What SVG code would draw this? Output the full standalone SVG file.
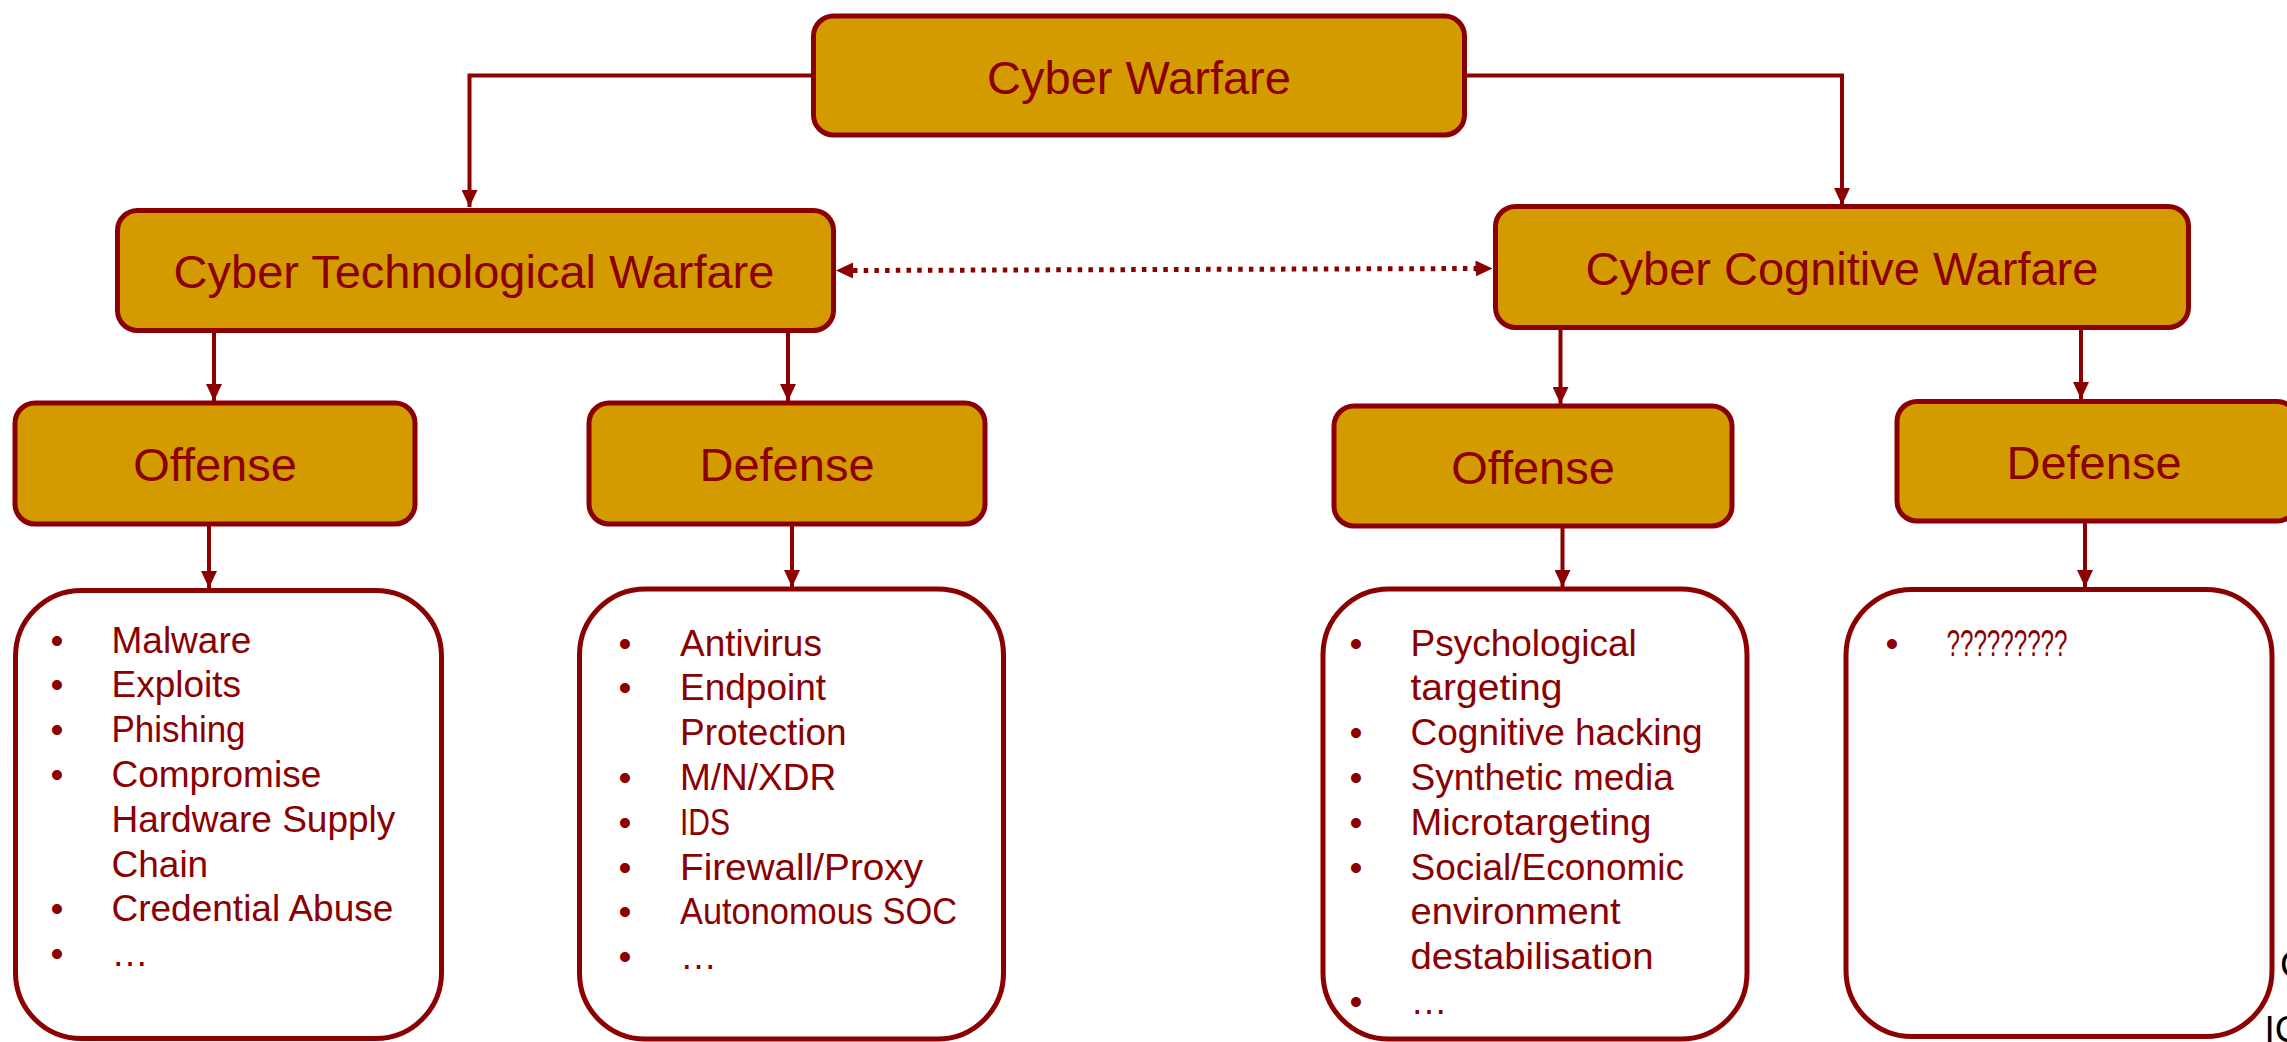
<svg xmlns="http://www.w3.org/2000/svg" width="2287" height="1042" viewBox="0 0 2287 1042">
<defs>
<style>
.node{fill:#D49B00;stroke:#8B0000;stroke-width:5}
.list{fill:#FFFFFF;stroke:#8B0000;stroke-width:5}
.lbl{font-family:"Liberation Sans",Arial,sans-serif;font-size:47px;fill:#8B0000;text-anchor:middle}
.item{font-family:"Liberation Sans",Arial,sans-serif;font-size:37px;fill:#8B0000}
.bul{font-family:"Liberation Sans",Arial,sans-serif;font-size:37px;fill:#8B0000;text-anchor:middle}
.conn{fill:none;stroke:#8B0000;stroke-width:4}
.dash{fill:none;stroke:#8B0000;stroke-width:5;stroke-dasharray:4.5 6.2}
.cut{font-family:"Liberation Sans",Arial,sans-serif;font-size:37px;fill:#000000}
</style>
<marker id="arr" viewBox="0 0 17 16" refX="17" refY="8" markerWidth="17" markerHeight="16" markerUnits="userSpaceOnUse" orient="auto-start-reverse">
<path d="M0,0 L17,8 L0,16 z" fill="#8B0000"/>
</marker>
</defs>
<rect width="2287" height="1042" fill="#FFFFFF"/>

<g id="connectors">
<path class="conn" d="M813,75.5 H469.5 V207" marker-end="url(#arr)"/>
<path class="conn" d="M1465,75.5 H1842 V205" marker-end="url(#arr)"/>
<path class="conn" d="M214,331 V401" marker-end="url(#arr)"/>
<path class="conn" d="M788,331 V401" marker-end="url(#arr)"/>
<path class="conn" d="M1560.5,328 V404" marker-end="url(#arr)"/>
<path class="conn" d="M2081,328 V399" marker-end="url(#arr)"/>
<path class="conn" d="M209,524 V588" marker-end="url(#arr)"/>
<path class="conn" d="M792,524 V587" marker-end="url(#arr)"/>
<path class="conn" d="M1562.5,526 V587" marker-end="url(#arr)"/>
<path class="conn" d="M2085,521 V587" marker-end="url(#arr)"/>
<path class="dash" d="M853,270.5 L1476,268.5"/>
<path d="M836,270.5 L1492.5,268.5" fill="none" stroke="none" marker-start="url(#arr)" marker-end="url(#arr)"/>
</g>

<g id="cyber-warfare">
<rect class="node" x="813.5" y="16" width="651" height="119" rx="20"/>
<text class="lbl" x="1139" y="94">Cyber Warfare</text>
</g>

<g id="cyber-technological-warfare">
<rect class="node" x="117.5" y="210.5" width="716" height="120" rx="20"/>
<text class="lbl" x="474" y="288">Cyber Technological Warfare</text>
</g>

<g id="cyber-cognitive-warfare">
<rect class="node" x="1495.5" y="206.5" width="693" height="121" rx="20"/>
<text class="lbl" x="1842" y="285">Cyber Cognitive Warfare</text>
</g>

<g id="tech-offense">
<rect class="node" x="15" y="403" width="400" height="121" rx="20"/>
<text class="lbl" x="215" y="481">Offense</text>
</g>

<g id="tech-defense">
<rect class="node" x="589" y="403" width="396" height="121" rx="20"/>
<text class="lbl" x="787" y="481">Defense</text>
</g>

<g id="cog-offense">
<rect class="node" x="1334" y="406" width="398" height="120" rx="20"/>
<text class="lbl" x="1533" y="484">Offense</text>
</g>

<g id="cog-defense">
<rect class="node" x="1897" y="401.5" width="400" height="119.5" rx="20"/>
<text class="lbl" x="2094" y="478.5">Defense</text>
</g>

<g id="tech-offense-list">
<rect class="list" x="15.5" y="590.5" width="426" height="448" rx="66"/>
<text class="bul" x="57" y="652.5">•</text><text class="item" x="111.5" y="652.5">Malware</text>
<text class="bul" x="57" y="697.3">•</text><text class="item" x="111.5" y="697.3">Exploits</text>
<text class="bul" x="57" y="742.1">•</text><text class="item" x="111.5" y="742.1" textLength="134" lengthAdjust="spacingAndGlyphs">Phishing</text>
<text class="bul" x="57" y="786.9">•</text><text class="item" x="111.5" y="786.9">Compromise</text>
<text class="item" x="111.5" y="831.7">Hardware Supply</text>
<text class="item" x="111.5" y="876.5">Chain</text>
<text class="bul" x="57" y="921.3">•</text><text class="item" x="111.5" y="921.3">Credential Abuse</text>
<text class="bul" x="57" y="966.1">•</text><text class="item" x="111.5" y="966.1">…</text>
</g>

<g id="tech-defense-list">
<rect class="list" x="579.5" y="589" width="424" height="450" rx="66"/>
<text class="bul" x="625" y="655.5">•</text><text class="item" x="680" y="655.5">Antivirus</text>
<text class="bul" x="625" y="700.3">•</text><text class="item" x="680" y="700.3">Endpoint</text>
<text class="item" x="680" y="745.1">Protection</text>
<text class="bul" x="625" y="789.9">•</text><text class="item" x="680" y="789.9">M/N/XDR</text>
<text class="bul" x="625" y="834.7">•</text><text class="item" x="680" y="834.7" textLength="50" lengthAdjust="spacingAndGlyphs">IDS</text>
<text class="bul" x="625" y="879.5">•</text><text class="item" x="680" y="879.5" textLength="243" lengthAdjust="spacingAndGlyphs">Firewall/Proxy</text>
<text class="bul" x="625" y="924.3">•</text><text class="item" x="680" y="924.3" textLength="277" lengthAdjust="spacingAndGlyphs">Autonomous SOC</text>
<text class="bul" x="625" y="969.1">•</text><text class="item" x="680" y="969.1">…</text>
</g>

<g id="cog-offense-list">
<rect class="list" x="1323" y="589" width="424" height="450" rx="66"/>
<text class="bul" x="1356" y="655.5">•</text><text class="item" x="1410.5" y="655.5">Psychological</text>
<text class="item" x="1410.5" y="700.3" textLength="152" lengthAdjust="spacingAndGlyphs">targeting</text>
<text class="bul" x="1356" y="745.1">•</text><text class="item" x="1410.5" y="745.1">Cognitive hacking</text>
<text class="bul" x="1356" y="789.9">•</text><text class="item" x="1410.5" y="789.9">Synthetic media</text>
<text class="bul" x="1356" y="834.7">•</text><text class="item" x="1410.5" y="834.7" textLength="241" lengthAdjust="spacingAndGlyphs">Microtargeting</text>
<text class="bul" x="1356" y="879.5">•</text><text class="item" x="1410.5" y="879.5">Social/Economic</text>
<text class="item" x="1410.5" y="924.3" textLength="210" lengthAdjust="spacingAndGlyphs">environment</text>
<text class="item" x="1410.5" y="969.1" textLength="243" lengthAdjust="spacingAndGlyphs">destabilisation</text>
<text class="bul" x="1356" y="1013.9">•</text><text class="item" x="1410.5" y="1013.9">…</text>
</g>

<g id="cog-defense-list">
<rect class="list" x="1846" y="589.5" width="426" height="447" rx="66"/>
<text class="bul" x="1892" y="655.5">•</text><text class="item" x="1946.5" y="655.5" textLength="121" lengthAdjust="spacingAndGlyphs">?????????</text>
</g>

<text class="cut" x="2280" y="977">C</text>
<text class="cut" x="2264.5" y="1042">IC</text>
</svg>
